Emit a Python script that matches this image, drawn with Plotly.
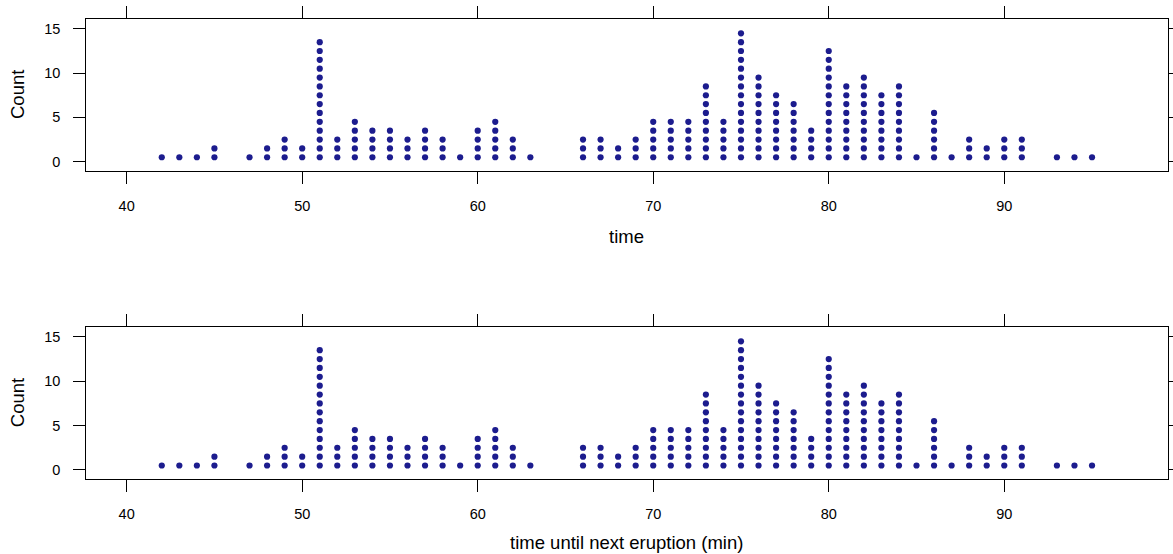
import plotly.graph_objects as go

# waiting time (min) and number of eruptions with that waiting time
times = [42, 43, 44, 45, 47, 48, 49, 50, 51, 52, 53, 54, 55, 56, 57, 58, 59, 60, 61, 62, 63,
         66, 67, 68, 69, 70, 71, 72, 73, 74, 75, 76, 77, 78, 79, 80, 81, 82, 83, 84, 85, 86,
         87, 88, 89, 90, 91, 93, 94, 95]
counts = [1, 1, 1, 2, 1, 2, 3, 2, 14, 3, 5, 4, 4, 3, 4, 3, 1, 4, 5, 3, 1,
          3, 3, 2, 3, 5, 5, 5, 9, 5, 15, 10, 8, 7, 4, 13, 9, 10, 8, 9, 1, 6,
          1, 3, 2, 3, 3, 1, 1, 1]
x_ticks = [40, 50, 60, 70, 80, 90]
y_ticks = [0, 5, 10, 15]
titles = ["time", "time until next eruption (min)"]

xs, ys = [], []
for t, c in zip(times, counts):
    for k in range(c):
        xs.append(t)
        ys.append(k + 0.5)

W, H = 1173, 554
DOT = "#1c1c8e"

fig = go.Figure()
for i in (1, 2):
    fig.add_trace(go.Scatter(
        x=xs, y=ys, mode="markers",
        marker=dict(size=6.2, color=DOT, line=dict(width=0)),
        xaxis="x" if i == 1 else "x2", yaxis="y" if i == 1 else "y2",
        showlegend=False, hoverinfo="x+y"))

font_tick = dict(family="Liberation Sans, Arial, sans-serif", size=14.5, color="black")
xdom = [86.3 / W, 1167.5 / W]
ydoms = [[1 - 170.7 / H, 1 - 19.3 / H], [1 - 479.0 / H, 1 - 327.3 / H]]

common_x = dict(range=[37.7, 99.3], tickvals=x_ticks, showline=True, mirror="ticks",
                linecolor="black", linewidth=1, ticks="outside", ticklen=12,
                tickcolor="black", tickwidth=1, showgrid=False, zeroline=False,
                tickfont=font_tick, ticklabelstandoff=10, domain=xdom, automargin=False)
common_y = dict(range=[-1.02, 16.08], tickvals=y_ticks, showline=True, mirror="ticks",
                linecolor="black", linewidth=1, ticks="outside", ticklen=12,
                tickcolor="black", tickwidth=1, showgrid=False, zeroline=False,
                tickfont=font_tick, ticklabelstandoff=10, automargin=False)

fig.update_layout(
    width=W, height=H, margin=dict(l=0, r=0, t=0, b=0, autoexpand=False),
    paper_bgcolor="white", plot_bgcolor="white",
    xaxis=dict(common_x, anchor="y"),
    yaxis=dict(common_y, anchor="x", domain=ydoms[0]),
    xaxis2=dict(common_x, anchor="y2"),
    yaxis2=dict(common_y, anchor="x2", domain=ydoms[1]),
)

font_title = dict(family="Liberation Sans, Arial, sans-serif", size=18.5, color="black")
ann = []
for title, yc in zip(titles, [236, 542]):
    ann.append(dict(text=title, x=(xdom[0] + xdom[1]) / 2, y=1 - yc / H, xref="paper", yref="paper",
                    xanchor="center", yanchor="middle", showarrow=False, font=font_title))
for yc in [(19.3 + 170.7) / 2, (327.3 + 479.0) / 2]:
    ann.append(dict(text="Count", x=17 / W, y=1 - yc / H, xref="paper", yref="paper",
                    xanchor="center", yanchor="middle", showarrow=False, textangle=-90,
                    font=font_title))
fig.update_layout(annotations=ann)

fig.write_html("out.html")
